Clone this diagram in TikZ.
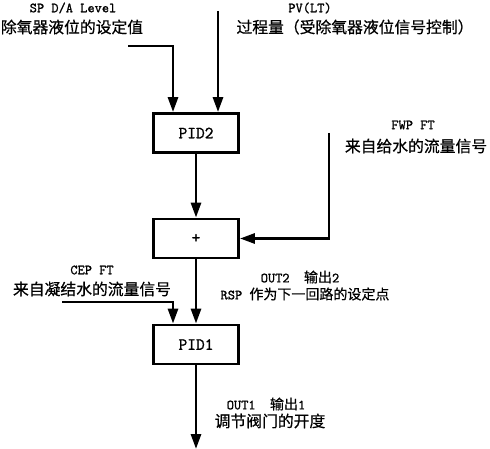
\documentclass[tikz,border=0pt]{standalone}
\usepackage{fontspec}
\setmainfont{Latin Modern Mono}[FakeBold=1.2]
\newfontfamily\cjk{Noto Sans CJK SC}[FakeBold=0.6]
\usetikzlibrary{arrows.meta}
\tikzset{
  box/.style={draw=black, line width=2.8pt, minimum width=85pt, minimum height=39pt, inner sep=0pt, font=\fontsize{17}{19}\selectfont},
  arr/.style={line width=2.8pt, -{Triangle[length=15pt,width=10pt]}},
  lbl/.style={inner sep=0pt, font=\fontsize{14}{16}\selectfont},
  zh/.style={inner sep=0pt, font=\cjk\fontsize{15.8}{18}\selectfont}
}
\begin{document}
\begin{tikzpicture}[x=1pt,y=-1pt]
\useasboundingbox (0,0) rectangle (490,449);
% boxes
\node[box] (pid2) at (196,133) {PID2};
\node[box] (plus) at (196,238.5) {+};
\node[box] (pid1) at (196,344.5) {PID1};
% free ends
\coordinate (sp) at (128,46);
\coordinate (pv) at (218,11);
\coordinate (fwp) at (329,133);
\coordinate (cep) at (62,302);
\coordinate (outend) at (196,449);
% connectors
\draw[arr] (sp) -| ([xshift=-23pt]pid2.north);
\draw[arr] (pv) -- (pv |- pid2.north);
\draw[arr] (pid2.south) -- (plus.north);
\draw[arr] (fwp) |- (plus.east);
\draw[arr] (plus.south) -- (pid1.north);
\draw[arr] (cep) -| ([xshift=-23pt]pid1.north);
\draw[arr] (pid1.south) -- (outend);
% labels
\node[lbl] (sp1) at (73,8) {SP D/A Level};
\node[zh] (sp2) at (72,27) {除氧器液位的设定值};
\node[lbl] (pv1) at (310,8) {PV(LT)};
\node[zh] (pv2) at (355,27) {过程量（受除氧器液位信号控制）};
\node[lbl] (fwp1) at (413,125) {FWP FT};
\node[zh] (fwp2) at (416,146) {来自给水的流量信号};
\node[lbl] (cep1) at (92,270) {CEP FT};
\node[zh] (cep2) at (92,289) {来自凝结水的流量信号};
\node[lbl] (o2a) at (300,277) {OUT2\ \ {\cjk 输出}2};
\node[lbl] (o2b) at (305,294) {RSP\ {\cjk 作为下一回路的设定点}};
\node[lbl] (o1a) at (266,404) {OUT1\ \ {\cjk 输出}1};
\node[zh] (o1b) at (270,421) {调节阀门的开度};
\end{tikzpicture}
\end{document}
